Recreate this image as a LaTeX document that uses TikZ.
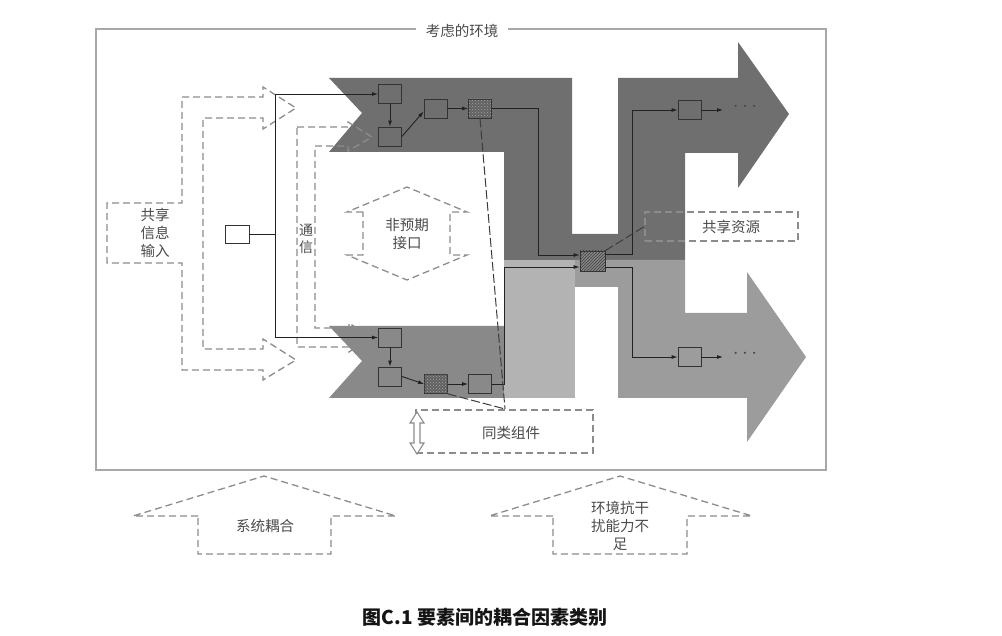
\documentclass[tikz,border=0pt]{standalone}
\usepackage{fontspec}
\newfontfamily\cjk{Noto Sans CJK SC}
\usetikzlibrary{arrows.meta,patterns,calc}
\definecolor{bandA}{HTML}{6F6F6F}
\definecolor{bandB}{HTML}{898989}
\definecolor{bandC}{HTML}{B3B3B3}
\definecolor{bandD}{HTML}{9C9C9C}
\definecolor{dashc}{HTML}{8C8C8C}
\definecolor{framec}{HTML}{A8A8A8}
\definecolor{linec}{HTML}{222222}
\definecolor{boxc}{HTML}{333333}
\definecolor{dlinec}{HTML}{3C3C3C}
\definecolor{txtc}{HTML}{4A4A4A}
\definecolor{capc}{HTML}{151515}
\begin{document}
\begin{tikzpicture}[x=1pt,y=-1pt,
  dsh/.style={draw=dashc, line width=1.3pt, dash pattern=on 7pt off 4pt, line join=miter},
  ln/.style={draw=linec, line width=0.9pt},
  arr/.style={ln, -{Latex[length=6pt,width=4pt]}},
  dln/.style={draw=dlinec, line width=1pt, dash pattern=on 9pt off 3pt},
  bx/.style={draw=boxc, line width=0.8pt, minimum width=23pt, minimum height=19pt, inner sep=0pt},
  lbl/.style={font=\cjk\fontsize{14.5}{18}\selectfont, text=txtc, align=center, inner sep=0pt},
  dots/.style={text=black!72, font=\fontsize{22}{22}\selectfont, inner sep=0pt}]
\useasboundingbox (0,0) rectangle (1002,636);
% frame
\draw[draw=framec, line width=1.4pt] (96,29) rectangle (826,470);
\node[lbl, fill=white, inner xsep=10pt, inner ysep=2pt] (env) at (462,31) {考虑的环境};
% bands
\fill[bandA] (329,78) -- (572,78) -- (572,234) -- (618,234) -- (618,78) -- (738,78) -- (738,42) -- (789,114) -- (738,188) -- (738,153) -- (685,153) -- (685,260) -- (504,260) -- (504,152) -- (329,152) -- (362,113) -- cycle;
\fill[bandB] (329,326) -- (504,326) -- (504,398) -- (329,398) -- (362,361) -- cycle;
\fill[bandC] (504,260) rectangle (575,398);
\fill[bandD] (575,260) -- (685,260) -- (685,313) -- (747,313) -- (747,272) -- (806,357) -- (747,442) -- (747,398) -- (618,398) -- (618,287) -- (575,287) -- cycle;
% dashed shapes
\draw[dsh] (182,97) -- (263,97) -- (263,87) -- (296,108) -- (263,129) -- (263,118) -- (203,118) -- (203,349) -- (263,349) -- (263,339) -- (296,360) -- (263,380) -- (263,370) -- (182,370) -- (182,263) -- (107,263) -- (107,203) -- (182,203) -- cycle;
\node[lbl] (shin) at (155,233) {共享\\信息\\输入};
\draw[dsh] (297,127) -- (348,127) -- (348,122) -- (372,137) -- (348,151) -- (348,146) -- (315,146) -- (315,328) -- (349,328) -- (349,323) -- (371,337.5) -- (349,352) -- (349,347) -- (297,347) -- cycle;
\node[lbl, font=\cjk\fontsize{14}{17}\selectfont] (tx) at (306,238.5) {通\\信};
\draw[dsh] (363,212) -- (347,212) -- (407,187) -- (467,212) -- (450,212) -- (450,255) -- (467,255) -- (407,280) -- (347,255) -- (363,255) -- cycle;
\node[lbl] (fyq) at (407,234) {非预期\\接口};
\draw[dsh] (198,516) -- (133,516) -- (264,476) -- (396,516) -- (331,516) -- (331,554) -- (198,554) -- cycle;
\node[lbl] (xt) at (265,526) {系统耦合};
\draw[dsh] (553,516) -- (489,516) -- (620,476) -- (752,516) -- (687,516) -- (687,554) -- (553,554) -- cycle;
\node[lbl] (hj) at (620,526) {环境抗干\\扰能力不\\足};
\node[dsh, minimum width=153pt, minimum height=29pt, inner sep=0pt] (R) at (721.5,226.5) {};
\node[lbl] (Rt) at (731,227) {共享资源};
\node[dsh, minimum width=177pt, minimum height=43pt, inner sep=0pt] (T) at (504.5,431.5) {};
\node[lbl] (Tt) at (511,433) {同类组件};
\draw[draw=dashc, line width=1.1pt, fill=white] (417,412) -- (410,423) -- (414,423) -- (414,443) -- (410,443) -- (417,454) -- (424,443) -- (420,443) -- (420,423) -- (424,423) -- cycle;
% boxes
\node[bx, minimum width=24pt, minimum height=18pt, fill=white] (S) at (237,234) {};
\node[bx] (A) at (390,94) {};
\node[bx] (B) at (390,136.5) {};
\node[bx] (C) at (435.5,108.5) {};
\node[bx, fill=black!62, postaction={pattern=crosshatch dots, pattern color=black!35}] (D) at (480,108.5) {};
\node[bx] (E) at (390,337.5) {};
\node[bx] (I) at (390,376.5) {};
\node[bx, fill=black!62, postaction={pattern=crosshatch dots, pattern color=black!35}] (K) at (436,384) {};
\node[bx] (J) at (480,384) {};
\node[bx, minimum width=25pt, minimum height=20pt, fill=bandA!85!white, postaction={pattern=north east lines, pattern color=black!75}] (F) at (592.5,261) {};
\node[bx] (G) at (689.5,110) {};
\node[bx] (H) at (689.5,357) {};
\node[dots] (g3) at (745,107) {$\cdots$};
\node[dots] (h3) at (745,354) {$\cdots$};
% coordinates
\coordinate (v1) at (275,94);
\coordinate (v2) at (275,337.5);
\coordinate (vs) at (275,234);
\coordinate (d1) at (538,108.5);
\coordinate (d2) at (538,255);
\coordinate (f1) at (632,254);
\coordinate (f2) at (632,267);
\coordinate (j1) at (504,384);
\coordinate (j2) at (504,267);
\coordinate (gd) at (723,110);
\coordinate (hd) at (723,357);
\coordinate (t1) at (505,409);
% connectors
\draw[ln] (v1) -- (v2);
\draw[ln] (S) -- (vs);
\draw[arr] (v1) -- (A);
\draw[arr] (v2) -- (E);
\draw[arr] (A) -- (B);
\draw[arr] (B.east) -- ([yshift=-3pt]C.west);
\draw[arr] (C) -- (D);
\draw[arr] (D) -- (d1) -- (d2) -- (d2 -| F.west);
\draw[arr] (F.east |- f1) -- (f1) |- (G);
\draw[arr] (F.east |- f2) -- (f2) |- (H);
\draw[arr] (G) -- (gd);
\draw[arr] (H) -- (hd);
\draw[arr] (E) -- (I);
\draw[arr] (I.east) -- (K.west);
\draw[arr] (K) -- (J);
\draw[arr] (J) -- (j1) -- (j2) -- (j2 -| F.west);
\draw[dln] (D.south) -- (t1);
\draw[dln] (K.south east) -- (t1);
\draw[dln] (F.north east) -- (R.west);
% caption
\node[font=\cjk\bfseries\fontsize{19}{19}\selectfont, text=capc, inner sep=0pt] (cap) at (485,617) {图C.1 要素间的耦合因素类别};
\end{tikzpicture}
\end{document}
